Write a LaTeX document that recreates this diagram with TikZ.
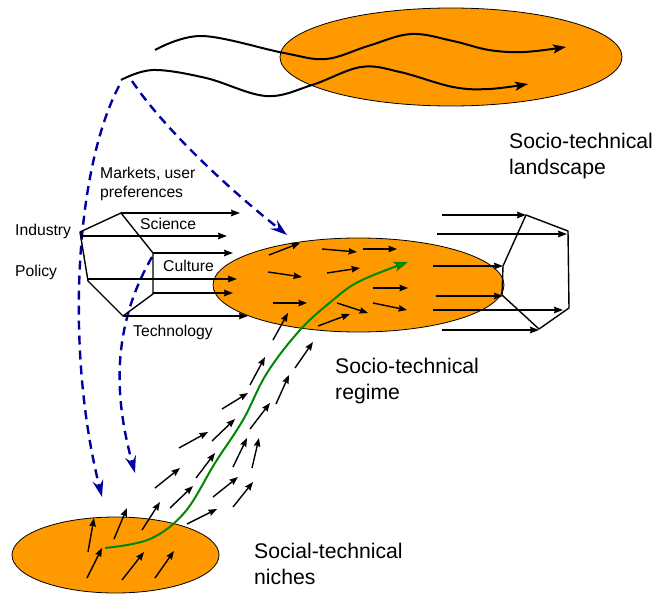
\documentclass[tikz,border=0pt]{standalone}
\usepackage{fontspec}
\setmainfont{Liberation Sans}
\usetikzlibrary{arrows.meta,shapes.geometric}
\definecolor{orng}{RGB}{255,153,0}
\definecolor{dblue}{RGB}{0,0,160}
\definecolor{dgreen}{RGB}{0,135,0}
\begin{document}
\begin{tikzpicture}[x=1pt,y=-1pt,
  blob/.style={ellipse, draw=black, line width=0.8pt, fill=orng, inner sep=0pt},
  sarr/.style={line width=1.4pt, -{Stealth[length=8.5pt,width=6.5pt,inset=1pt]}},
  harr/.style={line width=1.4pt, -{Stealth[length=9pt,width=6.5pt,inset=1pt]}},
  frame/.style={line width=1.4pt, line join=round},
  wave/.style={line width=2pt, -{Stealth[length=13pt,width=9pt,inset=3pt]}},
  bluedash/.style={dblue, line width=2.4pt, dash pattern=on 9pt off 6pt, -{Stealth[length=17pt,width=11pt,inset=6pt]}},
  greenarr/.style={dgreen, line width=2pt, -{Stealth[length=14pt,width=10pt,inset=3pt]}},
  small/.style={font=\fontsize{15.7}{19}\selectfont, inner sep=0pt, anchor=base west, align=left},
  big/.style={font=\fontsize{21.2}{26}\selectfont, inner sep=0pt, anchor=base west, align=left},
]
\useasboundingbox (0,0) rectangle (654,594);

% ellipses
\node[blob, minimum width=342pt, minimum height=98pt] (land) at (451,57) {};
\node[blob, minimum width=291pt, minimum height=94pt] (regime) at (358.5,285) {};
\node[blob, minimum width=207pt, minimum height=76pt] (niche) at (115.5,555) {};

% landscape waves
\draw[wave] plot[smooth, tension=0.6] coordinates {(155,50) (202,36) (284,53) (326,59) (368,46) (411,34) (453,41) (489,50) (524,52) (566,47)};
\draw[wave] plot[smooth, tension=0.6] coordinates {(121,80) (153,70) (206,78) (266,96) (312,85) (361,67) (400,72) (453,87) (489,89) (528,84)};

% blue dashed arrows
\coordinate (ws) at (119,86);
\coordinate (ws2) at (132,81);
\coordinate (hx) at (152,257);
\coordinate (t1) at (102,497);
\coordinate (t2) at (287,235);
\coordinate (t3) at (135,473);
\draw[bluedash] (ws) .. controls (75,170) and (65,350) .. (t1);
\draw[bluedash] (ws2) .. controls (165,130) and (230,190) .. (t2);
\draw[bluedash] (hx) .. controls (110,330) and (115,400) .. (t3);

% left hexagon
\draw[frame] (80,232) -- (121,213) -- (153,253) -- (153,294) -- (123,316) -- (88,281) -- cycle;
\draw[harr] (121,213) -- (240,213);
\draw[harr] (81,236) -- (227,236);
\draw[harr] (153,253) -- (233,253);
\draw[harr] (88,279) -- (237,279);
\draw[harr] (153,293) -- (233,293);
\draw[harr] (123,316) -- (248,316);

% right polygon
\draw[frame] (526,215) -- (568,231) -- (569,308) -- (539,329) -- (502,295) -- (503,266) -- cycle;
\draw[harr] (442,215) -- (526,215);
\draw[harr] (437,234) -- (567,234);
\draw[harr] (433,266) -- (503,266);
\draw[harr] (436,296) -- (503,296);
\draw[harr] (433,310) -- (563,310);
\draw[harr] (442,330) -- (539,330);

% regime arrows
\foreach \a/\b/\c/\d in {269/255/300/243, 322/249/357/252, 363/249/397/249, 268/272/302/277, 327/273/360/268, 373/288/408/288, 273/303/307/303, 337/303/368/313, 373/303/407/310, 318/326/350/314}
  \draw[sarr] (\a,\b) -- (\c,\d);

% diagonal arrows
\foreach \a/\b/\c/\d in {179/448/208/432, 155/488/180/468, 222/409/248/393, 212/441/235/419, 196/478/215/453, 170/508/193/486, 250/385/265/357, 273/340/288/313, 295/368/313/342, 276/404/289/375, 250/429/270/403, 233/467/247/438, 252/468/259/438, 213/497/238/477, 233/507/253/482, 187/524/217/509}
  \draw[sarr] (\a,\b) -- (\c,\d);

% niche arrows
\foreach \a/\b/\c/\d in {88/552/94/518, 114/539/127/508, 142/530/160/502, 87/578/102/548, 122/580/144/552, 155/578/174/551}
  \draw[sarr] (\a,\b) -- (\c,\d);

% green path
\draw[greenarr] plot[smooth, tension=0.6] coordinates {(105,548) (150,539) (185,512) (215,463) (243,420) (267,373) (300,330) (333,300) (360,281) (408,262)};

% labels
\node[small] (mk) at (100,197) {Markets, user\\preferences};
\node[small] (ind) at (15,235) {Industry};
\node[small] (pol) at (15,276) {Policy};
\node[small] (sci) at (140,229) {Science};
\node[small] (cul) at (163,271) {Culture};
\node[small] (tec) at (133,336) {Technology};
\node[big] (lL) at (509,175) {Socio-technical\\landscape};
\node[big] (lR) at (335,399) {Socio-technical\\regime};
\node[big] (lN) at (254,584) {Social-technical\\niches};
\end{tikzpicture}
\end{document}
